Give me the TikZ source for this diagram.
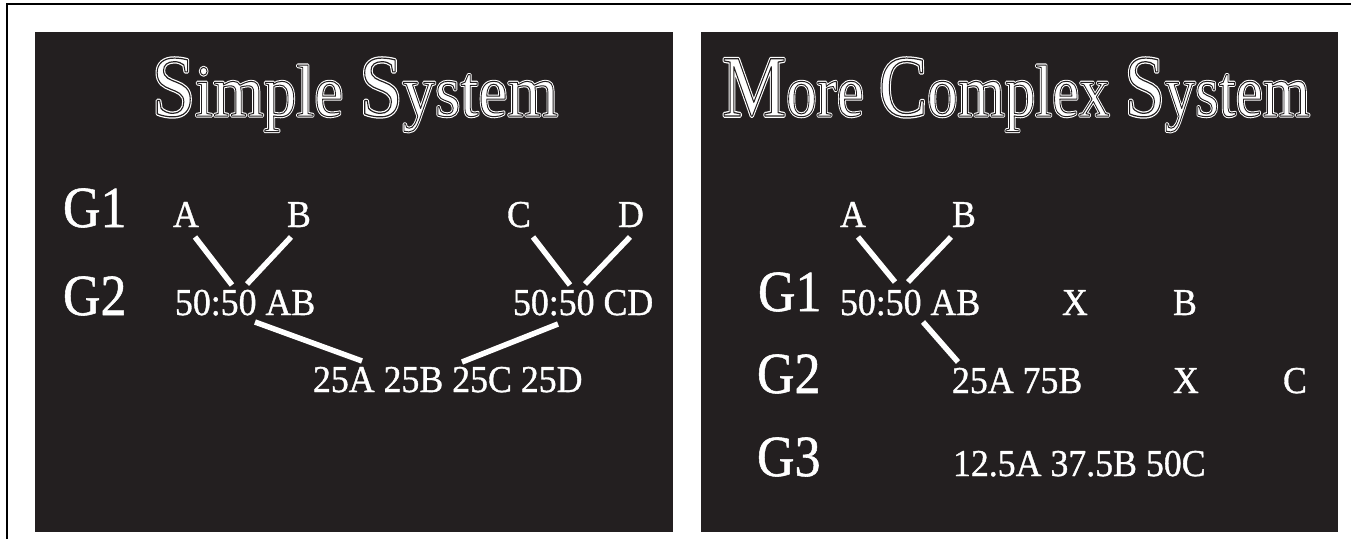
\documentclass[tikz,border=0pt]{standalone}
\usepackage{fontspec}
\setmainfont{Liberation Serif}
\usepackage{graphicx}
\definecolor{panel}{RGB}{35,31,32}

% Inline (engraved) lettering: white filled + stroked glyphs, with a thin
% dark stroke laid on the glyph contour. \trmode holds the render mode of
% the current pass and is re-issued round every scaled capital.
\newcommand{\trmode}{}
\newcommand{\tcap}[1]{\scalebox{1.19}{\trmode#1}\trmode}
\newcommand{\inlinetitle}[1]{%
  \rlap{\color{white}\def\trmode{\special{pdf:literal direct 2 Tr 3.1 w 1 j}}\trmode#1\special{pdf:literal direct 0 Tr}}%
  {\color{panel}\def\trmode{\special{pdf:literal direct 1 Tr 1.0 w 1 j}}\trmode#1\special{pdf:literal direct 0 Tr}}}
% Slightly heavier white lettering for the labels
\newcommand{\upsz}[1]{\scalebox{1}[1.06]{\special{pdf:literal direct 2 Tr 0.35 w 1 j}#1\special{pdf:literal direct 0 Tr}}}
\newcommand{\upszg}[1]{\scalebox{1}[1.12]{\special{pdf:literal direct 2 Tr 0.5 w 1 j}#1\special{pdf:literal direct 0 Tr}}}

\begin{document}
\begin{tikzpicture}[x=1pt,y=-1pt,
  every node/.style={inner sep=0pt,outer sep=0pt},
  panelbox/.style={fill=panel,draw=none},
  frameline/.style={draw=black,line width=2pt},
  titletext/.style={anchor=base,font=\fontsize{73.5}{90}\selectfont},
  lbl/.style={text=white,anchor=base west,font=\fontsize{35.8}{40}\selectfont},
  gen/.style={text=white,anchor=base west,font=\fontsize{52}{56}\selectfont},
  link/.style={draw=white,line width=5.5pt}]

\useasboundingbox[fill=white] (0,0) rectangle (1351,539);
\draw[frameline] (7,539) -- (7,4) -- (1351,4);

% panels
\path[panelbox] (35,32) rectangle (673,532);
\path[panelbox] (701,32) rectangle (1338,532);

% titles
\node[titletext] (titleL) at (355,116)
  {\resizebox{406pt}{\height}{\inlinetitle{\tcap{S}imple \tcap{S}ystem}}};
\node[titletext] (titleR) at (1016,116)
  {\resizebox{588pt}{\height}{\inlinetitle{\tcap{M}ore \tcap{C}omplex \tcap{S}ystem}}};

% ---- simple system ----
\node[gen] (sG1) at (63,227) {\upszg{G1}};
\node[gen] (sG2) at (63,315) {\upszg{G2}};
\node[lbl] (sA) at (173,227) {\upsz{A}};
\node[lbl] (sB) at (287,227) {\upsz{B}};
\node[lbl] (sC) at (507,227) {\upsz{C}};
\node[lbl] (sD) at (618,227) {\upsz{D}};
\node[lbl] (sAB) at (175,315) {\upsz{50:50 AB}};
\node[lbl] (sCD) at (513,315) {\upsz{50:50 CD}};
\node[lbl] (sABCD) at (313,392) {\upsz{25A 25B 25C 25D}};

\draw[link] ([shift={(22,10)}]sA.base west) -- ([shift={(57,-30)}]sAB.base west);
\draw[link] ([shift={(4,10)}]sB.base west) -- ([shift={(72,-31)}]sAB.base west);
\draw[link] ([shift={(26,10)}]sC.base west) -- ([shift={(57,-30)}]sCD.base west);
\draw[link] ([shift={(12,10)}]sD.base west) -- ([shift={(72,-31)}]sCD.base west);
\draw[link] ([shift={(80,7)}]sAB.base west) -- ([shift={(49,-31)}]sABCD.base west);
\draw[link] ([shift={(45,9)}]sCD.base west) -- ([shift={(149,-30)}]sABCD.base west);

% ---- more complex system ----
\node[lbl] (cA) at (840,227) {\upsz{A}};
\node[lbl] (cB) at (952,227) {\upsz{B}};
\node[gen] (cG1) at (758,311) {\upszg{G1}};
\node[lbl] (cAB) at (840,315) {\upsz{50:50 AB}};
\node[lbl] (cX1) at (1062,315) {\upsz{X}};
\node[lbl] (cB1) at (1173,315) {\upsz{B}};
\node[gen] (cG2) at (757,393) {\upszg{G2}};
\node[lbl] (cAB2) at (952,393) {\upsz{25A 75B}};
\node[lbl] (cX2) at (1173,393) {\upsz{X}};
\node[lbl] (cC2) at (1283,393) {\upsz{C}};
\node[gen] (cG3) at (757,476) {\upszg{G3}};
\node[lbl] (cABC) at (953,476) {\upsz{12.5A 37.5B 50C}};

\draw[link] ([shift={(18,10)}]cA.base west) -- ([shift={(55,-33)}]cAB.base west);
\draw[link] ([shift={(-1,10)}]cB.base west) -- ([shift={(68,-33)}]cAB.base west);
\draw[link] ([shift={(83,7)}]cAB.base west) -- ([shift={(6,-31)}]cAB2.base west);
\end{tikzpicture}
\end{document}
